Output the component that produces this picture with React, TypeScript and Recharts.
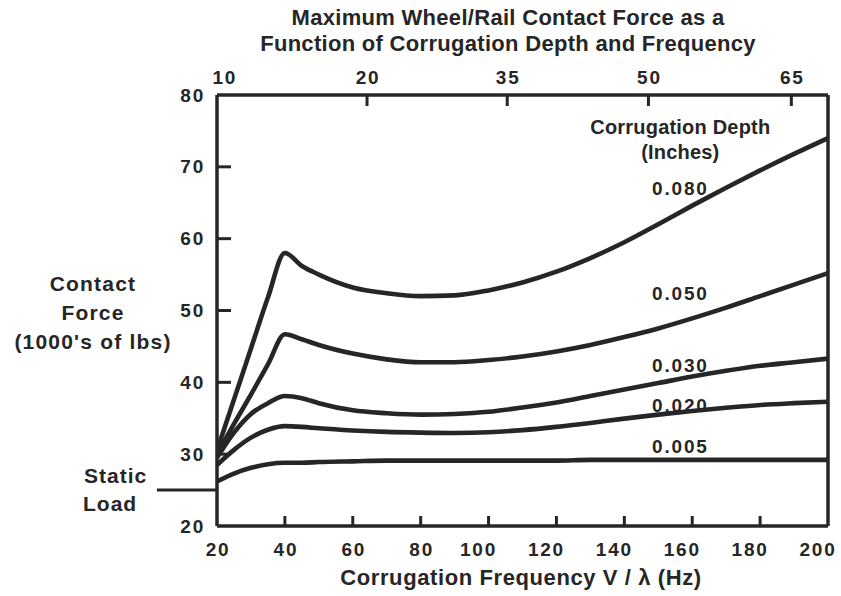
import React from 'react';
import { LineChart, Line, XAxis, YAxis, ReferenceLine, ReferenceDot } from 'recharts';

// ---- data ----
const frequencies = [20, 25, 30, 35, 40, 45, 50, 60, 70, 80, 90, 100, 110, 120, 130, 140, 150, 160, 170, 180, 190, 200];
const depth080 = [30.5, 37.6, 44.7, 51.8, 58.0, 56.2, 55.0, 53.2, 52.4, 52.0, 52.1, 52.8, 53.9, 55.4, 57.3, 59.5, 62.0, 64.6, 67.1, 69.5, 71.8, 74.0];
const depth050 = [30.0, 34.2, 38.3, 42.5, 46.7, 46.0, 45.2, 44.0, 43.2, 42.8, 42.8, 43.1, 43.6, 44.3, 45.2, 46.3, 47.5, 48.9, 50.4, 52.0, 53.6, 55.2];
const depth030 = [29.5, 33.0, 35.6, 37.1, 38.1, 37.8, 37.1, 36.1, 35.7, 35.5, 35.6, 35.9, 36.5, 37.2, 38.1, 39.0, 39.9, 40.8, 41.6, 42.3, 42.8, 43.3];
const depth020 = [28.5, 30.6, 32.3, 33.4, 33.9, 33.8, 33.6, 33.3, 33.1, 33.0, 32.95, 33.05, 33.35, 33.8, 34.35, 34.95, 35.5, 36.0, 36.45, 36.85, 37.1, 37.3];
const depth005 = [26.2, 27.3, 28.1, 28.6, 28.8, 28.8, 28.9, 29.0, 29.1, 29.1, 29.1, 29.1, 29.1, 29.1, 29.2, 29.2, 29.2, 29.2, 29.2, 29.2, 29.2, 29.2];
const seriesKeys = ['d080', 'd050', 'd030', 'd020', 'd005'];
const seriesNames = ['0.080', '0.050', '0.030', '0.020', '0.005'];
const seriesValues = [depth080, depth050, depth030, depth020, depth005];

const bottomTicks = [20, 40, 60, 80, 100, 120, 140, 160, 180, 200];
const leftTicks = [20, 30, 40, 50, 60, 70, 80];
const topTickPositions = [22, 64.2, 105.5, 147.1, 189.2];
const topTickLabels = ['10', '20', '35', '50', '65'];
const staticLoad = 25;

const data = frequencies.map((f, i) => {
  const row: Record<string, number> = { f };
  seriesKeys.forEach((k, s) => {
    row[k] = seriesValues[s][i];
  });
  return row;
});

// ---- styles ----
const INK = '#262626';
const FONT = '"Liberation Sans", Arial, Helvetica, sans-serif';
const tickText = { fontFamily: FONT, fontWeight: 700, fontSize: 19, letterSpacing: 1.8, fill: INK };

const LeftTick = (props: any) => {
  const { x, y, payload } = props;
  const v = payload.value;
  return (
    <g>
      {v > 20 && v < 80 && <line x1={x} x2={x + 14} y1={y} y2={y} stroke={INK} strokeWidth={3} />}
      <text x={x - 12} y={y} textAnchor="end" dominantBaseline="central" {...tickText}>{v}</text>
    </g>
  );
};

const BottomTick = (props: any) => {
  const { x, y, payload } = props;
  const v = payload.value;
  const dx = v >= 100 ? -10 : 1;
  return (
    <g>
      {v > 20 && v < 200 && <line x1={x} x2={x} y1={y} y2={y - 10} stroke={INK} strokeWidth={3} />}
      <text x={x + dx} y={y + 23} textAnchor="middle" dominantBaseline="central" {...tickText}>{v}</text>
    </g>
  );
};

const TopTick = (props: any) => {
  const { x, y, index } = props;
  return (
    <g>
      {index > 0 && <line x1={x} x2={x} y1={y} y2={y + 11} stroke={INK} strokeWidth={3} />}
      <text x={x + 1} y={y - 18} textAnchor="middle" dominantBaseline="central" {...tickText}>{topTickLabels[index]}</text>
    </g>
  );
};

const makeLabel = (text: string, size: number, spacing: number) => (p: any) => {
  const vb = p.viewBox || {};
  const cx = (vb.x ?? 0) + (vb.width ?? 0) / 2;
  const cy = (vb.y ?? 0) + (vb.height ?? 0) / 2;
  return (
    <text x={cx} y={cy} textAnchor="middle" dominantBaseline="central" fontFamily={FONT} fontWeight={700}
      fontSize={size} letterSpacing={spacing} fill={INK}>{text}</text>
  );
};

const labelX = 156.5;
const curveLabelY = [67.0, 52.4, 42.4, 36.8, 31.0];

export default function App() {
  const W = 841;
  const H = 596;
  return (
    <div style={{ position: 'absolute', left: 0, top: 0, width: W, height: H, background: '#fff' }}>
      <LineChart width={W} height={H} data={data} margin={{ top: 0, right: 13, bottom: 0, left: 0 }}>
        <XAxis xAxisId="bottom" dataKey="f" type="number" domain={[20, 200]} ticks={bottomTicks} interval={0}
          height={70} tickSize={0} tickMargin={0} tickLine={false} tick={<BottomTick />}
          axisLine={{ stroke: INK, strokeWidth: 3.5 }} allowDataOverflow />
        <XAxis xAxisId="top" dataKey="f" orientation="top" type="number" domain={[20, 200]} ticks={topTickPositions} interval={0}
          height={95} tickSize={0} tickMargin={0} tickLine={false} tick={<TopTick />}
          axisLine={{ stroke: INK, strokeWidth: 3.5 }} allowDataOverflow />
        <YAxis yAxisId="left" type="number" domain={[20, 80]} ticks={leftTicks} interval={0}
          width={217} tickSize={0} tickMargin={0} tickLine={false} tick={<LeftTick />}
          axisLine={{ stroke: INK, strokeWidth: 3.5 }} allowDataOverflow />
        <ReferenceLine xAxisId="bottom" yAxisId="left" x={200} stroke={INK} strokeWidth={3.5} />
        <ReferenceLine xAxisId="bottom" yAxisId="left" ifOverflow="visible"
          segment={[{ x: 2.3, y: staticLoad }, { x: 20, y: staticLoad }]} stroke={INK} strokeWidth={3} />
        {/* carrier series so the top (speed) axis shares the frequency domain; drawn invisibly */}
        <Line xAxisId="top" yAxisId="left" type="monotone" dataKey="d005" stroke="none" strokeOpacity={0}
          dot={false} activeDot={false} isAnimationActive={false} />
        {seriesKeys.map((k) => (
          <Line key={k} xAxisId="bottom" yAxisId="left" type="monotone" dataKey={k} stroke={INK}
            strokeWidth={4.6} dot={false} activeDot={false} isAnimationActive={false} />
        ))}
        <ReferenceDot xAxisId="bottom" yAxisId="left" x={labelX} y={75.5} r={1} fill="none" stroke="none"
          label={{ content: makeLabel('Corrugation Depth', 20, 0.2) }} />
        <ReferenceDot xAxisId="bottom" yAxisId="left" x={labelX} y={72.0} r={1} fill="none" stroke="none"
          label={{ content: makeLabel('(Inches)', 20, 0.2) }} />
        {seriesNames.map((n, i) => (
          <ReferenceDot key={n} xAxisId="bottom" yAxisId="left" x={labelX} y={curveLabelY[i]} r={1} fill="none" stroke="none"
            label={{ content: makeLabel(n, 19, 1.8) }} />
        ))}
      </LineChart>
      <svg width={W} height={H} style={{ position: 'absolute', left: 0, top: 0, pointerEvents: 'none' }}>
        <g fontFamily={FONT} fontWeight={700} fill={INK}>
          <text x={508} y={17} textAnchor="middle" dominantBaseline="central" fontSize={22} letterSpacing={0.3}>
            Maximum Wheel/Rail Contact Force as a
          </text>
          <text x={508} y={43} textAnchor="middle" dominantBaseline="central" fontSize={22} letterSpacing={0.3}>
            Function of Corrugation Depth and Frequency
          </text>
          <text x={93} y={283} textAnchor="middle" dominantBaseline="central" fontSize={21} letterSpacing={1.2}>Contact</text>
          <text x={93} y={312} textAnchor="middle" dominantBaseline="central" fontSize={21} letterSpacing={1.2}>Force</text>
          <text x={93} y={341} textAnchor="middle" dominantBaseline="central" fontSize={21} letterSpacing={1.2}>(1000's of lbs)</text>
          <text x={84} y={475} textAnchor="start" dominantBaseline="central" fontSize={21} letterSpacing={1}>Static</text>
          <text x={83} y={503} textAnchor="start" dominantBaseline="central" fontSize={21} letterSpacing={1}>Load</text>
          <text x={521} y={577} textAnchor="middle" dominantBaseline="central" fontSize={22} letterSpacing={0.6}>
            Corrugation Frequency V / λ (Hz)
          </text>
        </g>
      </svg>
    </div>
  );
}
